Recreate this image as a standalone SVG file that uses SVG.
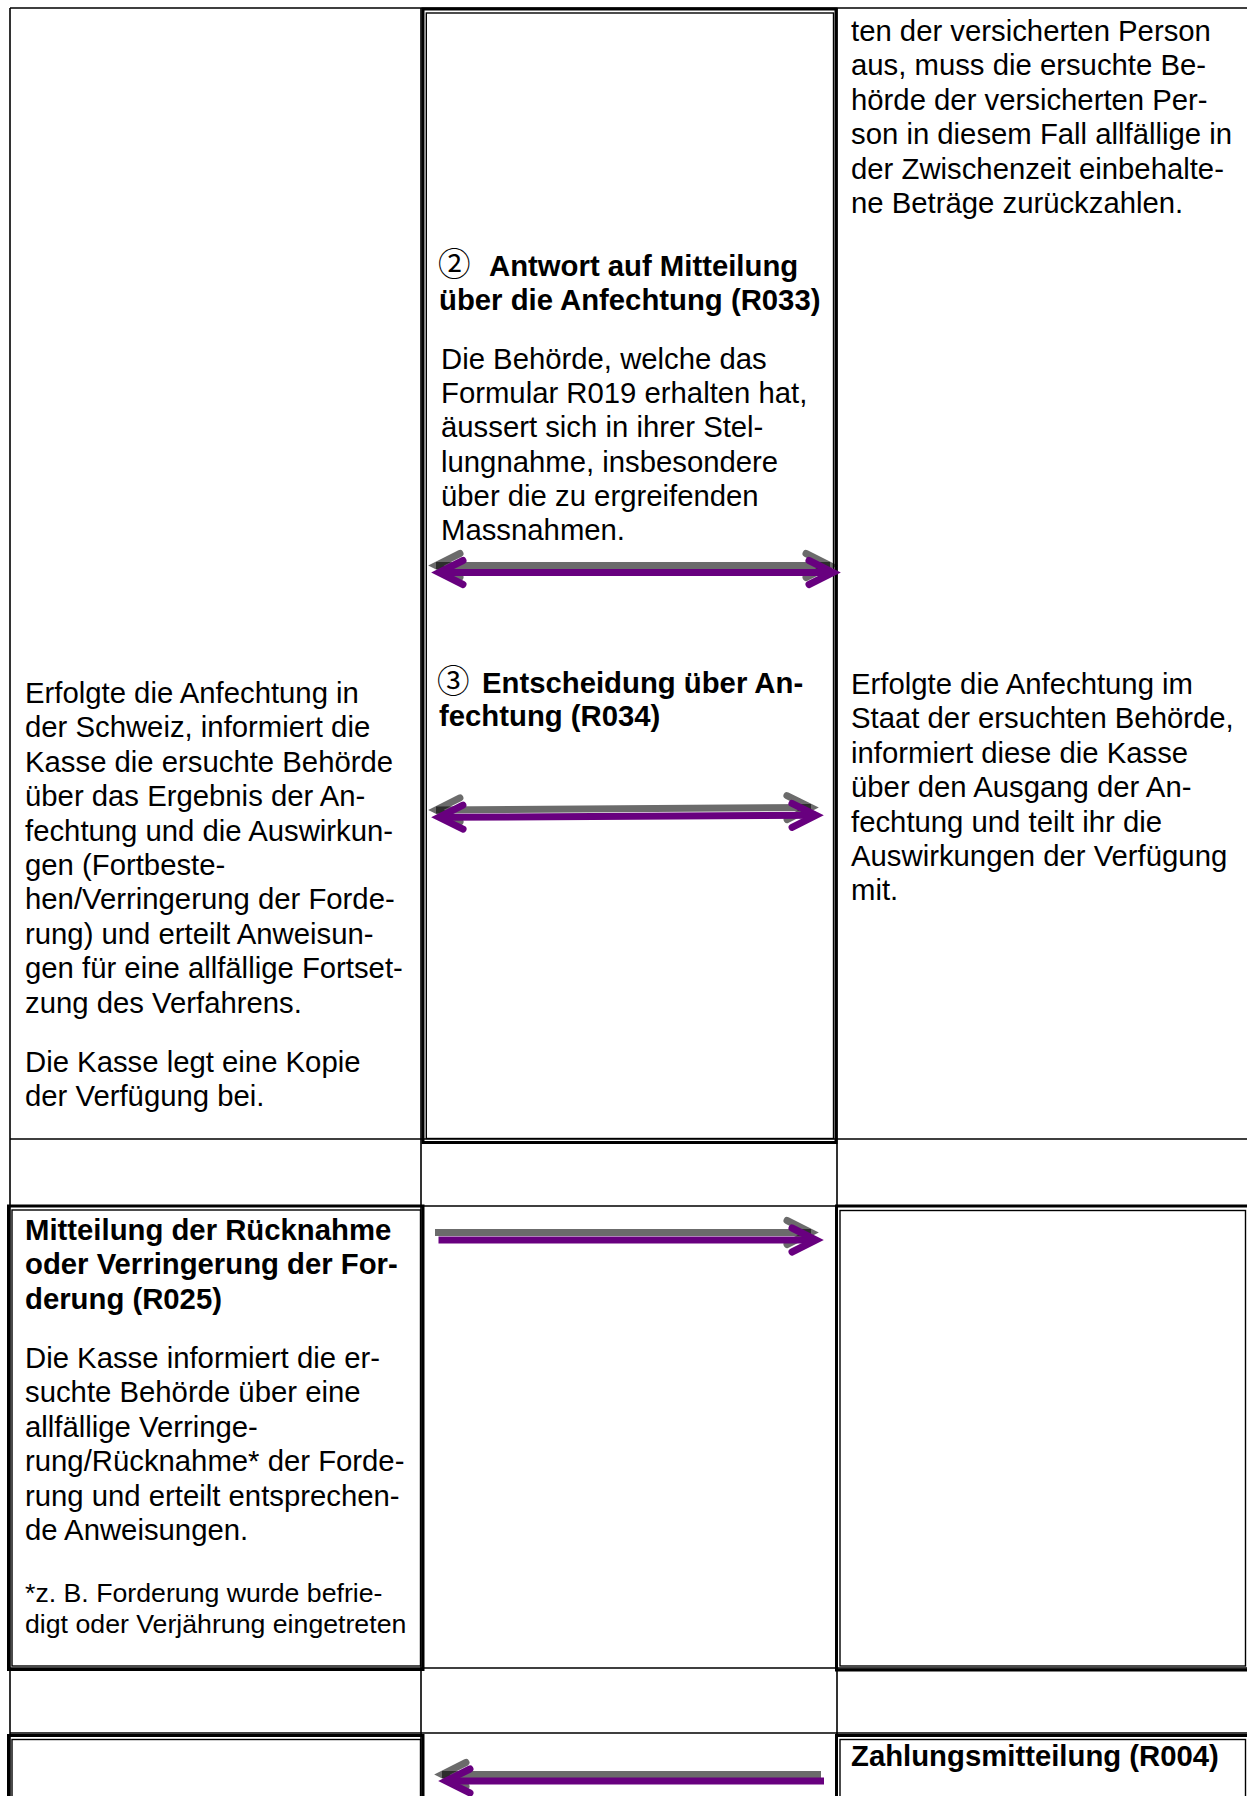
<svg xmlns="http://www.w3.org/2000/svg" width="1247" height="1796" viewBox="0 0 1247 1796">
<style>
.grid{stroke:#000;stroke-width:1.6;fill:none}
.outer{stroke:#000;stroke-width:3;fill:none}
.inner{stroke:#000;stroke-width:1.4;fill:none}
.t{font-family:"Liberation Sans",Arial,sans-serif;font-size:29.3px;fill:#000}
.b{font-weight:bold}
.s{font-size:26.7px}
.c{font-family:"Noto Sans CJK JP","DejaVu Sans",sans-serif;font-weight:normal;font-size:32.5px}
.lp{stroke:#68007f;stroke-width:7;fill:none}
.lg{stroke:#000;stroke-opacity:0.58;stroke-width:7;fill:none}
</style>
<defs>
<marker id="hp" markerUnits="userSpaceOnUse" markerWidth="60" markerHeight="60" viewBox="-40 -30 60 60" refX="0" refY="0" orient="auto-start-reverse" overflow="visible">
<path d="M-24,-12 L0,0 L-24,12" fill="none" stroke="#68007f" stroke-width="7" stroke-linecap="round" stroke-linejoin="miter"/>
</marker>
<marker id="hg" markerUnits="userSpaceOnUse" markerWidth="60" markerHeight="60" viewBox="-40 -30 60 60" refX="0" refY="0" orient="auto-start-reverse" overflow="visible">
<path d="M-24,-12 L0,0 L-24,12" fill="none" stroke="#000" stroke-opacity="0.58" stroke-width="7" stroke-linecap="round" stroke-linejoin="miter"/>
</marker>
</defs>
<rect width="1247" height="1796" fill="#fff"/>
<g id="grid">
<path class="grid" d="M10,8 H1248 M10,8 V1796 M421,8 V1796 M837,8 V1796 M10,1139 H1248 M10,1206 H1248 M10,1668 H1248 M10,1733 H1248"/>
</g>
<g id="step-kasse-schweiz">
<g class="t">
<text x="25" y="703">Erfolgte die Anfechtung in</text>
<text x="25" y="737.4">der Schweiz, informiert die</text>
<text x="25" y="771.8">Kasse die ersuchte Behörde</text>
<text x="25" y="806.2">über das Ergebnis der An-</text>
<text x="25" y="840.6">fechtung und die Auswirkun-</text>
<text x="25" y="875">gen (Fortbeste-</text>
<text x="25" y="909.4">hen/Verringerung der Forde-</text>
<text x="25" y="943.8">rung) und erteilt Anweisun-</text>
<text x="25" y="978.2">gen für eine allfällige Fortset-</text>
<text x="25" y="1012.6">zung des Verfahrens.</text>
<text x="25" y="1072">Die Kasse legt eine Kopie</text>
<text x="25" y="1106.4">der Verfügung bei.</text>
</g>
</g>
<g id="step-antwort">
<rect class="outer" x="423" y="9" width="413" height="1133.5"/>
<rect class="inner" x="426.3" y="13" width="407.2" height="1125.5"/>
<g class="t">
<text x="438" y="276" class="b"><tspan class="c">②</tspan><tspan x="489">Antwort auf Mitteilung</tspan></text>
<text x="439" y="310" class="b">über die Anfechtung (R033)</text>
<text x="441" y="369">Die Behörde, welche das</text>
<text x="441" y="403">Formular R019 erhalten hat,</text>
<text x="441" y="437">äussert sich in ihrer Stel-</text>
<text x="441" y="471.5">lungnahme, insbesondere</text>
<text x="441" y="506">über die zu ergreifenden</text>
<text x="441" y="540">Massnahmen.</text>
<text x="437" y="692.5" class="b"><tspan class="c">③</tspan><tspan x="482">Entscheidung über An-</tspan></text>
<text x="439" y="726" class="b">fechtung (R034)</text>
</g>
</g>
<g id="step-ersuchte-behoerde">
<g class="t">
<text x="851" y="41">ten der versicherten Person</text>
<text x="851" y="75.4">aus, muss die ersuchte Be-</text>
<text x="851" y="109.8">hörde der versicherten Per-</text>
<text x="851" y="144.2">son in diesem Fall allfällige in</text>
<text x="851" y="178.6">der Zwischenzeit einbehalte-</text>
<text x="851" y="213">ne Beträge zurückzahlen.</text>
<text x="851" y="694">Erfolgte die Anfechtung im</text>
<text x="851" y="728.4">Staat der ersuchten Behörde,</text>
<text x="851" y="762.8">informiert diese die Kasse</text>
<text x="851" y="797.2">über den Ausgang der An-</text>
<text x="851" y="831.6">fechtung und teilt ihr die</text>
<text x="851" y="866">Auswirkungen der Verfügung</text>
<text x="851" y="900.4">mit.</text>
</g>
</g>
<g id="step-r025">
<rect class="outer" x="8.5" y="1206" width="414.5" height="463.5"/>
<rect class="inner" x="12" y="1210" width="408.5" height="456"/>
<g class="t">
<text x="25" y="1240" class="b">Mitteilung der Rücknahme</text>
<text x="25" y="1274.4" class="b">oder Verringerung der For-</text>
<text x="25" y="1308.8" class="b">derung (R025)</text>
<text x="25" y="1368">Die Kasse informiert die er-</text>
<text x="25" y="1402.4">suchte Behörde über eine</text>
<text x="25" y="1436.8">allfällige Verringe-</text>
<text x="25" y="1471.2">rung/Rücknahme* der Forde-</text>
<text x="25" y="1505.6">rung und erteilt entsprechen-</text>
<text x="25" y="1540">de Anweisungen.</text>
<text x="25" y="1601.6" class="s">*z. B. Forderung wurde befrie-</text>
<text x="25" y="1632.6" class="s">digt oder Verjährung eingetreten</text>
</g>
</g>
<g id="step-r025-empfang">
<rect class="outer" x="836.5" y="1206" width="413" height="464"/>
<rect class="inner" x="840" y="1210.5" width="405.5" height="455.5"/>
</g>
<g id="step-r004-empfang">
<rect class="outer" x="8.5" y="1735.5" width="414.5" height="80"/>
<rect class="inner" x="12" y="1739.5" width="408.5" height="80"/>
</g>
<g id="step-r004">
<rect class="outer" x="836.5" y="1735.5" width="413" height="80"/>
<rect class="inner" x="840" y="1739.5" width="405.5" height="80"/>
<text x="851" y="1766" class="t b">Zahlungsmitteilung (R004)</text>
</g>
<g id="connectors">
<path class="lg" d="M436,565.5 L830,565.5" marker-start="url(#hg)" marker-end="url(#hg)"/>
<path class="lp" d="M439,572.5 L833,572.5" marker-start="url(#hp)" marker-end="url(#hp)"/>
<path class="lg" d="M436,810 L811,807.5" marker-start="url(#hg)" marker-end="url(#hg)"/>
<path class="lp" d="M439,817.3 L816,815.3" marker-start="url(#hp)" marker-end="url(#hp)"/>
<path class="lg" d="M435,1232.5 L811,1232.5" marker-end="url(#hg)"/>
<path class="lp" d="M438.5,1240 L816,1240" marker-end="url(#hp)"/>
<path class="lg" d="M821,1774.5 L442,1774.5" marker-end="url(#hg)"/>
<path class="lp" d="M824,1781 L446,1781" marker-end="url(#hp)"/>
</g>
</svg>
